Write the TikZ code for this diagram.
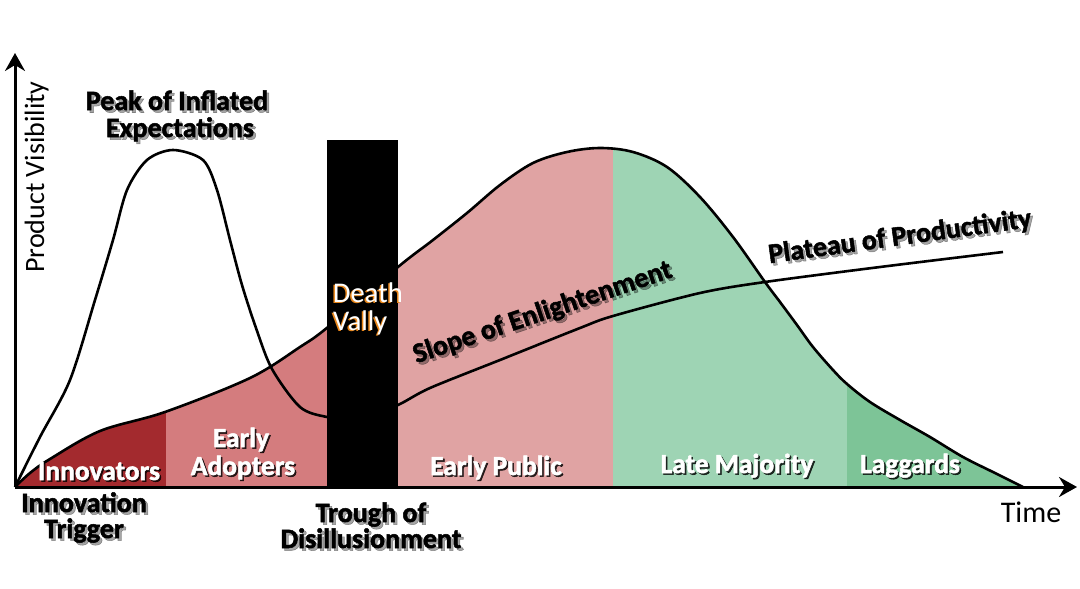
\documentclass[tikz,border=0pt]{standalone}
\usepackage{fontspec}
\setmainfont{Carlito}
\usetikzlibrary{arrows.meta}
\definecolor{innov}{HTML}{A32A2E}
\definecolor{adopt}{HTML}{D47C7E}
\definecolor{public}{HTML}{E0A3A3}
\definecolor{late}{HTML}{9ED4B4}
\definecolor{lagg}{HTML}{7DC497}
\definecolor{dvorange}{HTML}{E8861A}
\tikzset{
  curve/.style={line width=2.6pt, black},
  axis/.style={line width=3pt, black, -{Stealth[length=18pt,width=20pt,inset=6pt]}},
  blk/.style={font=\fontsize{28}{30}\selectfont\bfseries, text=black, inner sep=0pt, anchor=base},
  blkshadow/.style={blk, text=black, opacity=0.35},
  wht/.style={font=\fontsize{27.5}{29}\selectfont\bfseries, text=white, inner sep=0pt, anchor=base},
  whtshadow/.style={wht, text=black, opacity=0.8},
  reg/.style={font=\fontsize{28}{30}\selectfont, text=black, inner sep=0pt, anchor=base},
  dv/.style={font=\fontsize{28.5}{30}\selectfont, text=white, inner sep=0pt, anchor=base west},
  dvshadow/.style={dv, text=dvorange},
}
% heavier text: fill and stroke the glyphs; #1 stroke colour (r g b), #2 stroke width
\newcommand\heavy[3]{\special{pdf:literal direct #1 RG 2 Tr #2 w}#3\special{pdf:literal direct 0 Tr}}
\newcommand\blklabel[4][]{%
  \node[blkshadow,#1] at ([shift={(2.5,2.5)}]#3) {\heavy{0 0 0}{0.5}{#4}};
  \node[blk,#1] (#2) at (#3) {\heavy{0 0 0}{0.5}{#4}};}
\newcommand\whtlabel[3]{%
  \node[whtshadow] at ([shift={(1.6,1.6)}]#2) {\heavy{0 0 0}{0.5}{#3}};
  \node[wht] (#1) at (#2) {\heavy{1 1 1}{0.5}{#3}};}
\begin{document}
\begin{tikzpicture}[x=1pt,y=-1pt]
\useasboundingbox (0,0) rectangle (1080,589);
\fill[white] (0,0) rectangle (1080,589);

% coloured bands under the adoption curve
\begin{scope}
  \clip plot[smooth, tension=0.55] coordinates {(15,487) (30,473) (50,459) (100,431) (165,412) (250,378) (300,347) (328,327) (398,267) (433,240) (467,213) (500,185) (533,163) (567,152) (600,148) (633,152) (667,167) (700,197) (733,237) (765,282) (780,302) (797,325) (813,347) (833,370) (847,384) (870,402) (900,420) (930,437) (963,457) (997,474) (1023,487)};
  \fill[innov]  (15,100) rectangle (166,490);
  \fill[adopt]  (166,100) rectangle (327,490);
  \fill[public] (327,100) rectangle (613,490);
  \fill[late]   (613,100) rectangle (847,490);
  \fill[lagg]   (847,100) rectangle (1040,490);
\end{scope}

% adoption curve outline
\draw[curve] plot[smooth, tension=0.55] coordinates {(15,487) (30,473) (50,459) (100,431) (165,412) (250,378) (300,347) (328,327) (398,267) (433,240) (467,213) (500,185) (533,163) (567,152) (600,148) (633,152) (667,167) (700,197) (733,237) (765,282) (780,302) (797,325) (813,347) (833,370) (847,384) (870,402) (900,420) (930,437) (963,457) (997,474) (1023,487)};

% hype curve
\draw[curve] plot[smooth, tension=0.5] coordinates {(15,487) (40,437) (70,380) (95,300) (113,240) (127,190) (147,160) (173,150) (203,160) (217,190) (230,240) (242,285) (256,328) (272,369) (300,407) (327,417) (360,420) (398,405) (430,388) (500,360) (580,328) (613,316) (700,293) (765,282) (880,267) (1003,252)};

% axes
\coordinate (O) at (15,487);
\coordinate (ytop) at (15,53);
\coordinate (xend) at (1077,487);
\draw[axis] (O) -- (ytop);
\draw[axis] (O) -- (xend);

% death valley bar
\node (bar) [fill=black, minimum width=71, minimum height=347, inner sep=0pt, anchor=north west] at (327,140) {};
\node[dvshadow] at (331.5,303.5) {Death};
\node[dvshadow] at (331.5,331.5) {Vally};
\node[dv] (death) at (333,302) {Death};
\node[dv] (vally) at (333,330) {Vally};

% axis labels
\node[reg, rotate=90] (pv) at (44,177) {Product Visibility};
\node[reg, font=\fontsize{30}{32}\selectfont] (time) at (1031,522) {Time};

% phase labels
\blklabel{peak1}{177,110}{Peak of Inflated}
\blklabel{peak2}{180,137}{Expectations}
\blklabel{trig1}{84,512}{Innovation}
\blklabel{trig2}{84,538}{Trigger}
\blklabel{trough1}{371,522}{Trough of}
\blklabel{trough2}{371,548}{Disillusionment}
\blklabel[rotate=18.6]{slope}{545,320}{Slope of Enlightenment}
\blklabel[rotate=7.9]{plateau}{901,245}{Plateau of Productivity}

% adopter labels
\whtlabel{innovators}{99,480}{Innovators}
\whtlabel{early1}{241,447}{Early}
\whtlabel{early2}{243,475}{Adopters}
\whtlabel{earlypub}{496,475}{Early Public}
\whtlabel{latemaj}{737,473}{Late Majority}
\whtlabel{laggards}{910,473}{Laggards}
\end{tikzpicture}
\end{document}
